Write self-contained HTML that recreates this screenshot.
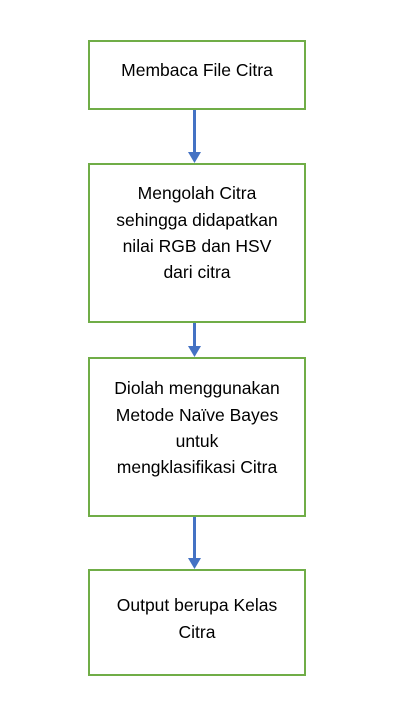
<!DOCTYPE html>
<html><head><style>
body{margin:0;width:413px;height:717px;background:#fff;position:relative;font-family:"Liberation Sans",sans-serif;}
.b{position:absolute;left:88px;width:214px;border:2px solid #70AD47;display:flex;align-items:center;justify-content:center;text-align:center;font-size:17.5px;line-height:26.3px;color:#000;box-sizing:content-box}
</style></head><body>
<div class="b" style="top:40px;height:66px"><span style="margin-top:-10px">Membaca File Citra</span></div>
<div class="b" style="top:163px;height:156px"><span style="margin-top:-20px">Mengolah Citra<br>sehingga didapatkan<br>nilai RGB dan HSV<br>dari citra</span></div>
<div class="b" style="top:357px;height:156px"><span style="margin-top:-18px">Diolah menggunakan<br>Metode Naïve Bayes<br>untuk<br>mengklasifikasi Citra</span></div>
<div class="b" style="top:569px;height:103px"><span style="margin-top:-8px">Output berupa Kelas<br>Citra</span></div>
<svg width="413" height="717" style="position:absolute;left:0;top:0">
<g fill="#4472C4" stroke="#4472C4" stroke-width="3">
<line x1="194.5" y1="110" x2="194.5" y2="153"/><polygon stroke="none" points="188,152 201,152 194.5,163"/>
<line x1="194.5" y1="323" x2="194.5" y2="347"/><polygon stroke="none" points="188,346 201,346 194.5,357"/>
<line x1="194.5" y1="517" x2="194.5" y2="559"/><polygon stroke="none" points="188,558 201,558 194.5,569"/>
</g></svg>
</body></html>
